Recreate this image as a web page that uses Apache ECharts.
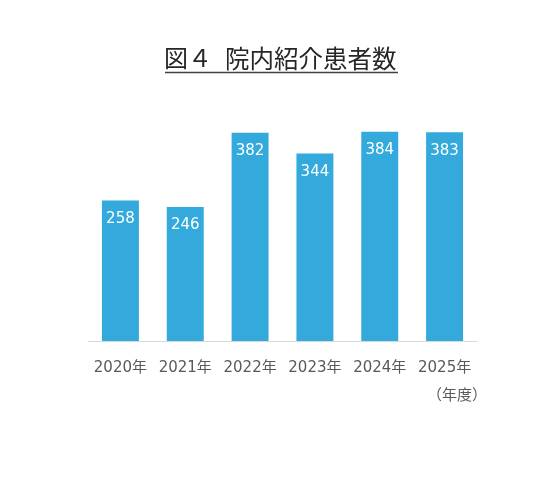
<!DOCTYPE html>
<html>
<head>
    <meta charset="utf-8">
    <script src="https://cdn.jsdelivr.net/npm/echarts@6/dist/echarts.min.js"></script>
</head>
<body>
    <style>
        html,
        body {
            width: 100%;
            height: 100%;
            margin: 0;
            background: #fff;
        }
    </style>
    <div id="main" style="width: 557px;height:489px;"></div>
    <script>
        var years = ['2020年', '2021年', '2022年', '2023年', '2024年', '2025年'];
        var patients = [258, 246, 382, 344, 384, 383];
        var titleNo = '図４';
        var titleText = '院内紹介患者数';
        var unitText = '（年度）';

        var cjk = '"Noto Sans CJK JP", sans-serif';
        var latin = '"DejaVu Sans", "Noto Sans CJK JP", sans-serif';
        var chart = echarts.init(document.getElementById('main'));

        var option = {
            backgroundColor: '#fff',
            textStyle: { fontFamily: latin },
            grid: {
                left: 88,
                right: 80,
                top: 123,
                bottom: 148
            },
            xAxis: {
                type: 'category',
                data: years,
                axisTick: { show: false },
                axisLine: { lineStyle: { color: '#d9d9d9', width: 1 } },
                axisLabel: {
                    interval: 0,
                    hideOverlap: false,
                    color: '#595959',
                    fontSize: 15,
                    margin: 20,
                    fontFamily: latin
                }
            },
            yAxis: {
                type: 'value',
                min: 0,
                max: 400,
                show: false,
                splitLine: { show: false }
            },
            series: [
                {
                    type: 'bar',
                    data: patients,
                    barWidth: '57%',
                    itemStyle: { color: '#33a9dc' },
                    label: {
                        show: true,
                        position: 'insideTop',
                        distance: 11,
                        color: '#fff',
                        fontSize: 15,
                        fontFamily: latin
                    }
                }
            ],
            graphic: [
                {
                    type: 'text',
                    left: 164,
                    top: 46,
                    style: {
                        text: titleNo,
                        fill: '#262626',
                        font: '24px ' + cjk
                    }
                },
                {
                    type: 'text',
                    left: 225,
                    top: 46,
                    style: {
                        text: titleText,
                        fill: '#262626',
                        font: '24.5px ' + cjk
                    }
                },
                {
                    type: 'line',
                    shape: { x1: 165, y1: 72.5, x2: 398, y2: 72.5 },
                    style: { stroke: '#404040', lineWidth: 1.5 }
                },
                {
                    type: 'text',
                    right: 70,
                    top: 387,
                    style: {
                        text: unitText,
                        fill: '#595959',
                        font: '15px ' + cjk
                    }
                }
            ]
        };
        chart.setOption(option);
    </script>
</body>
</html>
